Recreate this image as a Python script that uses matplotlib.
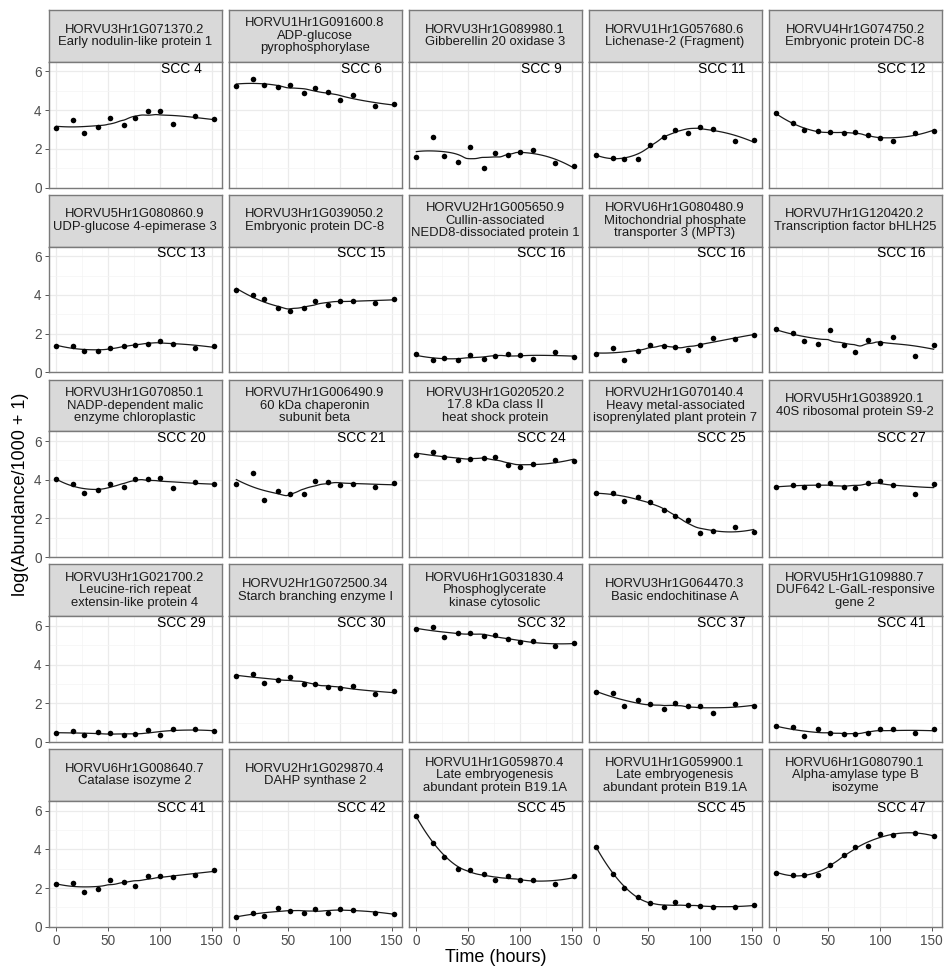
import numpy as np
import matplotlib
matplotlib.use('Agg')
import matplotlib.pyplot as plt

plt.rcParams['font.family'] = ['Liberation Sans', 'DejaVu Sans']

hours = np.array([0, 16, 27, 40, 52, 65, 76, 89, 100, 113, 134, 152])

gene_ids = ['HORVU3Hr1G071370.2', 'HORVU1Hr1G091600.8', 'HORVU3Hr1G089980.1',
            'HORVU1Hr1G057680.6', 'HORVU4Hr1G074750.2',
            'HORVU5Hr1G080860.9', 'HORVU3Hr1G039050.2', 'HORVU2Hr1G005650.9',
            'HORVU6Hr1G080480.9', 'HORVU7Hr1G120420.2',
            'HORVU3Hr1G070850.1', 'HORVU7Hr1G006490.9', 'HORVU3Hr1G020520.2',
            'HORVU2Hr1G070140.4', 'HORVU5Hr1G038920.1',
            'HORVU3Hr1G021700.2', 'HORVU2Hr1G072500.34', 'HORVU6Hr1G031830.4',
            'HORVU3Hr1G064470.3', 'HORVU5Hr1G109880.7',
            'HORVU6Hr1G008640.7', 'HORVU2Hr1G029870.4', 'HORVU1Hr1G059870.4',
            'HORVU1Hr1G059900.1', 'HORVU6Hr1G080790.1']

gene_names = ['Early nodulin-like protein 1', 'ADP-glucose\npyrophosphorylase',
              'Gibberellin 20 oxidase 3', 'Lichenase-2 (Fragment)',
              'Embryonic protein DC-8',
              'UDP-glucose 4-epimerase 3', 'Embryonic protein DC-8',
              'Cullin-associated\nNEDD8-dissociated protein 1',
              'Mitochondrial phosphate\ntransporter 3 (MPT3)',
              'Transcription factor bHLH25',
              'NADP-dependent malic\nenzyme chloroplastic',
              '60 kDa chaperonin\nsubunit beta',
              '17.8 kDa class II\nheat shock protein',
              'Heavy metal-associated\nisoprenylated plant protein 7',
              '40S ribosomal protein S9-2',
              'Leucine-rich repeat\nextensin-like protein 4',
              'Starch branching enzyme I',
              'Phosphoglycerate\nkinase cytosolic',
              'Basic endochitinase A',
              'DUF642 L-GalL-responsive\ngene 2',
              'Catalase isozyme 2', 'DAHP synthase 2',
              'Late embryogenesis\nabundant protein B19.1A',
              'Late embryogenesis\nabundant protein B19.1A',
              'Alpha-amylase type B\nisozyme']

scc = [4, 6, 9, 11, 12, 13, 15, 16, 16, 16, 20, 21, 24, 25, 27,
       29, 30, 32, 37, 41, 41, 42, 45, 45, 47]

values_row1 = [
    [3.09, 3.47, 2.81, 3.14, 3.62, 3.24, 3.59, 3.98, 3.97, 3.29, 3.69, 3.53],
    [5.26, 5.60, 5.31, 5.22, 5.28, 4.88, 5.17, 4.93, 4.52, 4.79, 4.21, 4.34],
    [1.57, 2.64, 1.64, 1.31, 2.12, 1.03, 1.79, 1.66, 1.83, 1.95, 1.26, 1.10],
    [1.69, 1.52, 1.48, 1.50, 2.22, 2.64, 2.97, 2.83, 3.14, 3.05, 2.41, 2.48],
    [3.83, 3.33, 2.97, 2.90, 2.86, 2.81, 2.86, 2.74, 2.55, 2.41, 2.83, 2.93],
]
values_row2 = [
    [1.37, 1.37, 1.08, 1.11, 1.27, 1.34, 1.40, 1.47, 1.61, 1.49, 1.25, 1.37],
    [4.25, 4.01, 3.78, 3.33, 3.19, 3.35, 3.69, 3.50, 3.71, 3.68, 3.61, 3.80],
    [0.94, 0.62, 0.75, 0.62, 0.92, 0.69, 0.83, 0.97, 0.90, 0.68, 1.04, 0.78],
    [0.97, 1.28, 0.66, 1.11, 1.44, 1.37, 1.30, 1.16, 1.40, 1.80, 1.75, 1.94],
    [2.24, 2.03, 1.63, 1.49, 2.18, 1.40, 1.04, 1.68, 1.53, 1.82, 0.87, 1.40],
]
values_row3 = [
    [4.03, 3.77, 3.34, 3.48, 3.77, 3.62, 4.05, 4.05, 4.07, 3.55, 3.91, 3.77],
    [3.77, 4.34, 2.97, 3.40, 3.26, 3.26, 3.96, 3.89, 3.72, 3.77, 3.65, 3.81],
    [5.30, 5.44, 5.16, 5.01, 5.09, 5.11, 5.18, 4.77, 4.68, 4.80, 5.03, 4.99],
    [3.31, 3.33, 2.90, 3.09, 2.86, 2.44, 2.11, 1.94, 1.25, 1.34, 1.56, 1.32],
    [3.64, 3.72, 3.62, 3.72, 3.84, 3.62, 3.58, 3.83, 3.96, 3.74, 3.28, 3.77],
]
values_row4 = [
    [0.46, 0.55, 0.35, 0.51, 0.44, 0.34, 0.41, 0.61, 0.37, 0.68, 0.67, 0.55],
    [3.42, 3.52, 3.07, 3.18, 3.36, 2.99, 3.02, 2.83, 2.81, 2.88, 2.47, 2.61],
    [5.83, 5.95, 5.43, 5.64, 5.64, 5.49, 5.51, 5.32, 5.16, 5.23, 4.97, 5.13],
    [2.57, 2.53, 1.86, 2.19, 1.95, 1.69, 2.02, 1.85, 1.86, 1.50, 1.97, 1.85],
    [0.81, 0.77, 0.29, 0.68, 0.44, 0.42, 0.41, 0.48, 0.65, 0.67, 0.44, 0.65],
]
values_row5 = [
    [2.21, 2.25, 1.80, 1.96, 2.44, 2.30, 2.09, 2.65, 2.60, 2.58, 2.67, 2.91],
    [0.52, 0.71, 0.54, 0.97, 0.81, 0.73, 0.92, 0.73, 0.92, 0.88, 0.71, 0.67],
    [5.73, 4.31, 3.63, 2.98, 2.94, 2.73, 2.40, 2.65, 2.40, 2.42, 2.20, 2.63],
    [4.12, 2.75, 2.01, 1.56, 1.21, 1.00, 1.28, 1.11, 1.07, 1.00, 1.02, 1.12],
    [2.80, 2.70, 2.66, 2.66, 3.17, 3.70, 4.12, 4.20, 4.79, 4.74, 4.86, 4.69],
]
all_rows = [values_row1, values_row2, values_row3, values_row4, values_row5]


def loess(x, y, xs, span=0.75):
    # local quadratic fit with tricube weights (R loess defaults)
    n = len(x)
    q = int(np.floor(n * span))
    fit = []
    for x0 in xs:
        d = np.abs(x - x0)
        h = np.sort(d)[q - 1]
        w = np.clip(1 - (d / h) ** 3, 0, None) ** 3
        X = np.vstack([np.ones(n), x - x0, (x - x0) ** 2]).T
        sw = np.sqrt(w)
        beta = np.linalg.lstsq(X * sw[:, None], y * sw, rcond=None)[0]
        fit.append(beta[0])
    return np.array(fit)


W, H = 946, 967
fig = plt.figure(figsize=(W / 100, H / 100), dpi=100)

border = '#7a7a7a'
col_left0, col_pitch, panel_w = 48.5, 180.0, 173.0
row_top0, row_pitch, strip_h, panel_h = 10.0, 184.8, 51.8, 125.8
xs = np.linspace(hours.min(), hours.max(), 80)

for r in range(5):
    for c in range(5):
        i = r * 5 + c
        left = col_left0 + c * col_pitch
        top = row_top0 + r * row_pitch
        # strip
        sax = fig.add_axes([left / W, 1 - (top + strip_h) / H, panel_w / W, strip_h / H])
        sax.set_facecolor('#d9d9d9')
        sax.set_xticks([])
        sax.set_yticks([])
        for sp in sax.spines.values():
            sp.set_color(border)
            sp.set_linewidth(1.0)
        sax.text(0.5, 0.5, gene_ids[i] + '\n' + gene_names[i], ha='center', va='center',
                 fontsize=9.4, color='#1a1a1a', linespacing=1.05, transform=sax.transAxes)

        ax = fig.add_axes([left / W, 1 - (top + strip_h + panel_h) / H, panel_w / W, panel_h / H])
        y = np.array(all_rows[r][c])
        ax.set_xlim(-7.6, 159.6)
        ax.set_ylim(0, 6.5)
        ax.set_xticks([0, 50, 100, 150])
        ax.set_xticks([25, 75, 125], minor=True)
        ax.set_yticks([0, 2, 4, 6])
        ax.set_yticks([1, 3, 5], minor=True)
        ax.grid(True, which='major', color='#ebebeb', linewidth=0.9)
        ax.grid(True, which='minor', color='#f4f4f4', linewidth=0.5)
        ax.set_axisbelow(True)
        for sp in ax.spines.values():
            sp.set_color(border)
            sp.set_linewidth(1.0)
        ax.tick_params(which='minor', length=0)
        ax.tick_params(which='major', length=3, width=0.7, color='#555555',
                       labelsize=9.8, labelcolor='#4d4d4d', pad=2)
        if c != 0:
            ax.tick_params(axis='y', length=0, labelleft=False)
        if r != 4:
            ax.tick_params(axis='x', length=0, labelbottom=False)

        ax.plot(xs, loess(hours.astype(float), y, xs), color='#1a1a1a',
                linewidth=0.9, zorder=2)
        ax.scatter(hours, y, s=16, color='black', zorder=3, linewidths=0)
        ax.text(121, 6.15, 'SCC %d' % scc[i], ha='center', va='center',
                fontsize=10, color='black')

fig.text(496 / W, 1 - 958 / H, 'Time (hours)', ha='center', va='center', fontsize=13)
fig.text(21 / W, 1 - 494 / H, 'log(Abundance/1000 + 1)', ha='center', va='center',
         rotation=90, fontsize=13)

fig.savefig('out.png', dpi=100)
